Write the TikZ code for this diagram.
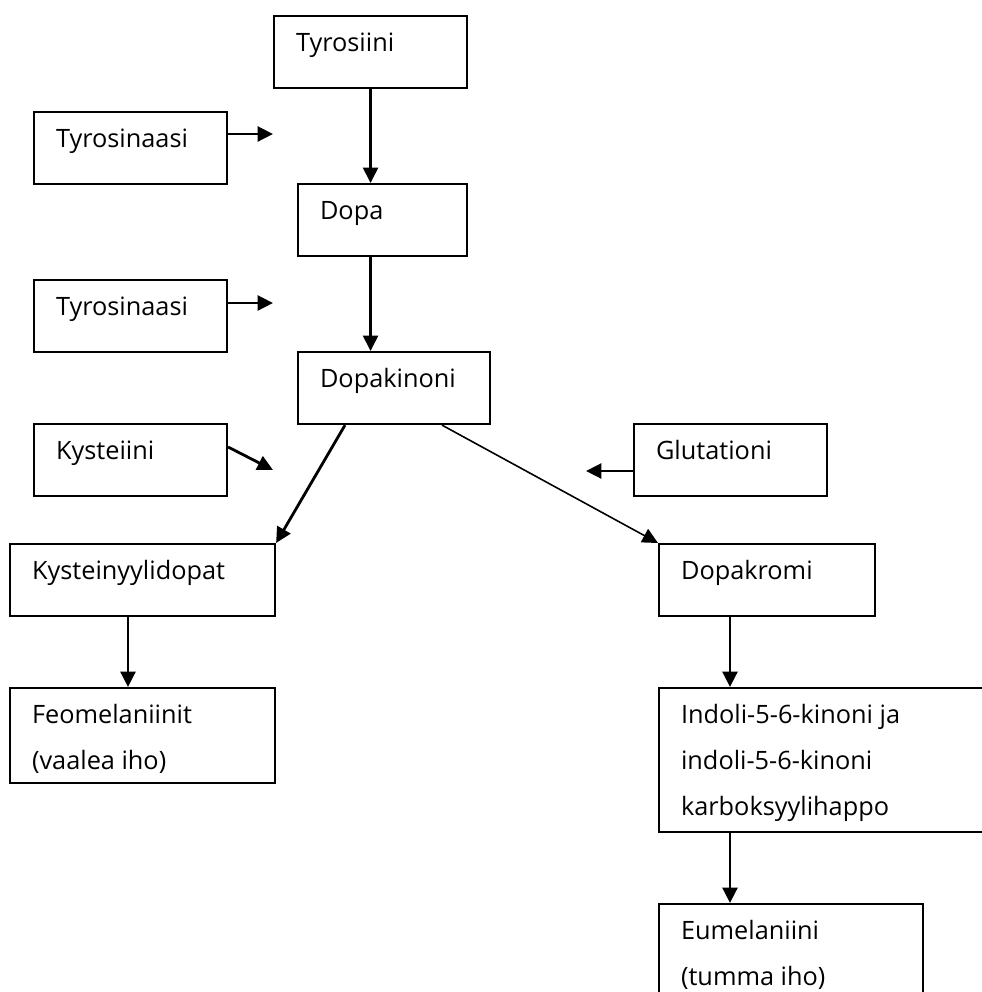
\documentclass[tikz,border=0pt]{standalone}
\usepackage{fontspec}
\setmainfont{Open Sans}
\usepackage{tikz}
\usetikzlibrary{arrows.meta,calc}

\newlength{\px}
\setlength{\px}{0.02cm}
% box of fixed size, text at top left
\newcommand{\boxtxt}[3]{\parbox[c][#2\px][t]{#1\px}{\raggedright\leftskip=22\px\baselineskip=46\px\rule{0pt}{35\px}#3}}

\begin{document}
\begin{tikzpicture}[x=0.02cm,y=-0.02cm]
  \clip (0,0) rectangle (982,992);
  \begin{scope}[every node/.style={draw,line width=1.2pt,inner sep=0pt,anchor=north west,font=\fontsize{14.4pt}{24pt}\selectfont}]
    \node (tyrosiini)     at (273,15)  {\boxtxt{193}{72}{Tyrosiini}};
    \node (tyrosinaasiA)  at (33,111)  {\boxtxt{193}{72}{Tyrosinaasi}};
    \node (dopa)          at (297,183) {\boxtxt{169}{72}{Dopa}};
    \node (tyrosinaasiB)  at (33,279)  {\boxtxt{193}{72}{Tyrosinaasi}};
    \node (dopakinoni)    at (297,351) {\boxtxt{192}{72}{Dopakinoni}};
    \node (kysteiini)     at (33,423)  {\boxtxt{193}{72}{Kysteiini}};
    \node (glutationi)    at (633,423) {\boxtxt{193}{72}{Glutationi}};
    \node (kysteinyyli)   at (9,543)   {\boxtxt{265}{72}{Kysteinyylidopat}};
    \node (dopakromi)     at (658,543) {\boxtxt{216}{72}{Dopakromi}};
    \node (feomelaniinit) at (9,687)   {\boxtxt{265}{95}{Feomelaniinit\\(vaalea iho)}};
    \node (indoli)        at (658,687) {\boxtxt{340}{144}{Indoli-5-6-kinoni ja\\indoli-5-6-kinoni\\karboksyylihappo}};
    \node (eumelaniini)   at (658,903) {\boxtxt{264}{110}{Eumelaniini\\(tumma iho)}};
  \end{scope}
  \coordinate (tipA) at (273,134);
  \coordinate (tipB) at (273,303);
  \coordinate (tipC) at (273,470);
  \coordinate (tipG) at (586,471);
  \coordinate (colL) at (128,0);
  \coordinate (colR) at (730,0);
  \begin{scope}[>={Triangle[length=0.31cm,width=0.3cm]},every edge/.style={draw=black,line width=1.6pt}]
    \path[->] (tyrosiini.south) edge (tyrosiini.south |- dopa.north);
    \path[->] (dopa.south -| tyrosiini.south) edge (dopakinoni.north -| tyrosiini.south);
    \path[->] (tipA -| tyrosinaasiA.east) edge (tipA);
    \path[->] (tipB -| tyrosinaasiB.east) edge (tipB);
    \path[->] ($(kysteiini.north east)+(0,24)$) edge (tipC);
    \path[->] (tipG -| glutationi.west) edge (tipG);
    \path[->] ($(dopakinoni.south west)+(48,0)$) edge (kysteinyyli.north east);
    \path[->] ($(dopakinoni.south west)+(145,0)$) edge[line width=0.9pt] (dopakromi.north west);
    \path[->] (kysteinyyli.south -| colL) edge (feomelaniinit.north -| colL);
    \path[->] (dopakromi.south -| colR) edge (indoli.north -| colR);
    \path[->] (indoli.south -| colR) edge (eumelaniini.north -| colR);
  \end{scope}
\end{tikzpicture}
\end{document}
